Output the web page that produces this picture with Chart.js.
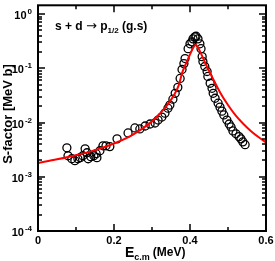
<!DOCTYPE html>
<html>
<head>
<meta charset="utf-8">
<style>
  body { margin: 0; background: #fff; }
</style>
<script src="https://cdn.jsdelivr.net/npm/chart.js@4"></script>
</head>
<body>
<canvas id="chart" width="275" height="261"></canvas>
<script>
// measured points
const expEnergy = [0.076, 0.079, 0.089, 0.097, 0.105, 0.111, 0.118, 0.124, 0.129, 0.132,
  0.139, 0.147, 0.153, 0.155, 0.163, 0.171, 0.179, 0.189, 0.208, 0.237,
  0.255, 0.268, 0.282, 0.295, 0.308, 0.316, 0.326, 0.334, 0.342, 0.347,
  0.355, 0.361, 0.368, 0.374, 0.379, 0.384, 0.387, 0.395, 0.400, 0.405,
  0.408, 0.413, 0.416, 0.421, 0.426, 0.429, 0.432, 0.434, 0.439, 0.445,
  0.447, 0.453, 0.458, 0.461, 0.466, 0.474, 0.479, 0.484, 0.489, 0.497,
  0.503, 0.508, 0.513, 0.521, 0.529, 0.534, 0.539, 0.545];
const expSFactor = [0.00342, 0.00244, 0.00215, 0.00198, 0.00215, 0.00225, 0.00244, 0.00328, 0.00277, 0.00215,
  0.00234, 0.00244, 0.00266, 0.00225, 0.00302, 0.00372, 0.00372, 0.0036, 0.005, 0.00643,
  0.00794, 0.00761, 0.00863, 0.0094, 0.0098, 0.0111, 0.0126, 0.0149, 0.0184, 0.021,
  0.0269, 0.0346, 0.0445, 0.065, 0.0949, 0.122, 0.151, 0.23, 0.283, 0.308,
  0.349, 0.38, 0.39, 0.349, 0.283, 0.23, 0.164, 0.133, 0.108, 0.0873,
  0.0707, 0.053, 0.0427, 0.0346, 0.028, 0.0227, 0.0192, 0.0162, 0.0138, 0.0111,
  0.0094, 0.0083, 0.007, 0.0062, 0.0055, 0.005, 0.0044, 0.0039];

// calculated curve
const fitEnergy = [0, 0.05, 0.1, 0.15, 0.2, 0.25, 0.3, 0.32, 0.34, 0.36, 0.37, 0.38, 0.39, 0.40,
  0.41, 0.415, 0.42, 0.43, 0.44, 0.46, 0.48, 0.5, 0.52, 0.54, 0.56, 0.58, 0.6];
const fitSFactor = [0.0018, 0.0021, 0.0025, 0.0031, 0.0041, 0.006, 0.0105, 0.0145, 0.021, 0.034, 0.048, 0.085, 0.125, 0.18,
  0.25, 0.27, 0.25, 0.18, 0.125, 0.065, 0.035, 0.021, 0.0135, 0.0095, 0.007, 0.0054, 0.0043];

// axes
const xMajorTicks = [0, 0.2, 0.4, 0.6];
const xTickLabels = ["0", "0.2", "0.4", "0.6"];
const xMinorTicks = [0.1, 0.3, 0.5];
const yDecades = [-4, -3, -2, -1, 0];

const FONT = "'Liberation Sans', Arial, sans-serif";

// frame, inward ticks and labels
const framePlugin = {
  id: "framePlugin",
  afterDatasetsDraw(chart) {
    const ctx = chart.ctx;
    const a = chart.chartArea;
    const xs = chart.scales.x;
    const ys = chart.scales.y;
    ctx.save();
    ctx.strokeStyle = "#000";
    ctx.fillStyle = "#000";

    ctx.lineWidth = 1.5;
    ctx.beginPath();
    const xTick = (v, len) => {
      const px = Math.round(xs.getPixelForValue(v));
      ctx.moveTo(px, a.bottom); ctx.lineTo(px, a.bottom - len);
      ctx.moveTo(px, a.top); ctx.lineTo(px, a.top + len);
    };
    const yTick = (v, len) => {
      const py = Math.round(ys.getPixelForValue(v));
      ctx.moveTo(a.left, py); ctx.lineTo(a.left + len, py);
      ctx.moveTo(a.right, py); ctx.lineTo(a.right - len, py);
    };
    xMajorTicks.forEach(v => xTick(v, 7));
    xMinorTicks.forEach(v => xTick(v, 4));
    yDecades.forEach(d => {
      yTick(Math.pow(10, d), 7);
      if (d < 0) {
        for (let m = 2; m <= 9; m++) yTick(m * Math.pow(10, d), 4);
      }
    });
    ctx.stroke();

    ctx.lineWidth = 2;
    ctx.strokeRect(a.left, a.top, a.right - a.left, a.bottom - a.top);

    // x tick labels
    ctx.font = "bold 11px " + FONT;
    ctx.textAlign = "center";
    ctx.textBaseline = "alphabetic";
    xMajorTicks.forEach((v, i) => {
      ctx.fillText(xTickLabels[i], xs.getPixelForValue(v), a.bottom + 13);
    });

    // y tick labels 10^n
    yDecades.forEach(d => {
      const py = ys.getPixelForValue(Math.pow(10, d));
      const sup = d === 0 ? "0" : "-" + Math.abs(d);
      ctx.font = "bold 8px " + FONT;
      ctx.textAlign = "right";
      const supW = ctx.measureText(sup).width;
      ctx.fillText(sup, a.left - 6, py);
      ctx.font = "bold 11px " + FONT;
      ctx.fillText("10", a.left - 7 - supW, py + 5);
    });

    // x title
    ctx.textAlign = "left";
    let x = 125;
    ctx.font = "bold 14px " + FONT;
    ctx.fillText("E", x, 257);
    x += ctx.measureText("E").width;
    ctx.font = "bold 9px " + FONT;
    ctx.fillText("c.m", x, 260);
    x += ctx.measureText("c.m").width + 3;
    ctx.font = "bold 12px " + FONT;
    ctx.fillText("(MeV)", x, 256);

    // y title
    ctx.save();
    ctx.translate(12, 114);
    ctx.rotate(-Math.PI / 2);
    ctx.textAlign = "center";
    ctx.font = "bold 13px " + FONT;
    ctx.fillText("S-factor [MeV b]", 0, 0);
    ctx.restore();

    // reaction label
    ctx.textAlign = "left";
    x = 55;
    ctx.font = "bold 12px " + FONT;
    ctx.fillText("s + d ", x, 30);
    x += ctx.measureText("s + d ").width;
    ctx.font = "13px 'DejaVu Sans'";
    ctx.fillText("\u2192", x, 30);
    x += ctx.measureText("\u2192").width;
    ctx.font = "bold 12px " + FONT;
    ctx.fillText(" p", x, 30);
    x += ctx.measureText(" p").width;
    ctx.font = "bold 8px " + FONT;
    ctx.fillText("1/2", x, 33);
    x += ctx.measureText("1/2").width;
    ctx.font = "bold 12px " + FONT;
    ctx.fillText(" (g.s)", x, 30);

    ctx.restore();
  }
};

const expPoints = expEnergy.map((e, i) => ({ x: e, y: expSFactor[i] }));
const fitPoints = fitEnergy.map((e, i) => ({ x: e, y: fitSFactor[i] }));

new Chart(document.getElementById("chart"), {
  type: "scatter",
  data: {
    datasets: [
      {
        type: "line",
        data: fitPoints,
        borderColor: "#ff0000",
        borderWidth: 2,
        pointRadius: 0,
        fill: false,
        cubicInterpolationMode: "monotone",
        order: 0
      },
      {
        data: expPoints,
        pointStyle: "circle",
        pointRadius: 4,
        borderWidth: 1.3,
        borderColor: "#000",
        backgroundColor: "rgba(0,0,0,0)",
        order: 1
      }
    ]
  },
  options: {
    responsive: false,
    animation: false,
    layout: { padding: { left: 38, right: 9, top: 3, bottom: 30 } },
    plugins: {
      legend: { display: false },
      tooltip: { enabled: false }
    },
    scales: {
      x: {
        type: "linear",
        min: 0,
        max: 0.6,
        grid: { display: false, drawTicks: false },
        border: { display: false },
        ticks: { display: false }
      },
      y: {
        type: "logarithmic",
        min: 1e-4,
        max: 1.45,
        grid: { display: false, drawTicks: false },
        border: { display: false },
        ticks: { display: false }
      }
    }
  },
  plugins: [framePlugin]
});
</script>
</body>
</html>
